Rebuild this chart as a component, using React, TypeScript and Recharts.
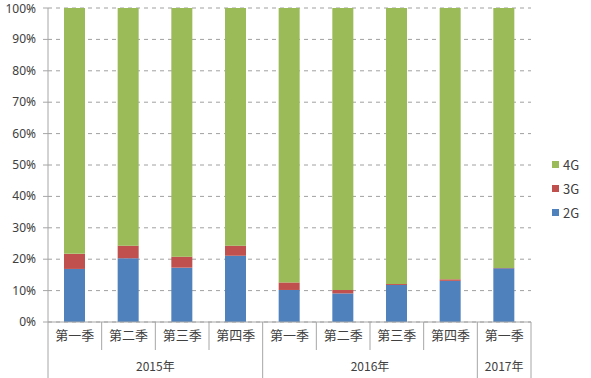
import { BarChart, Bar, XAxis, YAxis, CartesianGrid } from "recharts";

const quarters = ["第一季", "第二季", "第三季", "第四季", "第一季", "第二季", "第三季", "第四季", "第一季"];
const years = ["2015年", "2015年", "2015年", "2015年", "2016年", "2016年", "2016年", "2016年", "2017年"];
const share2G = [16.9, 20.3, 17.3, 21.1, 10.2, 9.1, 11.8, 13.1, 17.1];
const share3G = [4.8, 4.0, 3.5, 3.2, 2.4, 1.1, 0.3, 0.5, 0.1];
const yTicks = [0, 10, 20, 30, 40, 50, 60, 70, 80, 90, 100];

const data = quarters.map((q, i) => ({
  q,
  year: years[i],
  g2: share2G[i],
  g3: share3G[i],
  g4: +(100 - share2G[i] - share3G[i]).toFixed(1),
}));

const font = "'Noto Sans CJK SC', 'Noto Sans', sans-serif";
const axisColor = "#a6a6a6";
const textColor = "#404040";

const legendItems = [
  { name: "4G", color: "#9bbb59" },
  { name: "3G", color: "#c0504d" },
  { name: "2G", color: "#4f81bd" },
];

function QuarterTick(props: any) {
  const { x, y, index, width, visibleTicksCount } = props;
  const band = width / visibleTicksCount;
  const left = x - band / 2;
  const right = x + band / 2;
  const lastOfYear = index === years.length - 1 || years[index + 1] !== years[index];
  const firstOfYear = index === 0 || years[index - 1] !== years[index];
  let count = 0;
  for (let j = index; j < years.length && years[j] === years[index]; j++) count++;
  return (
    <g>
      {index === 0 && <line x1={left} x2={left} y1={y} y2={y + 56} stroke={axisColor} />}
      <line x1={right} x2={right} y1={y} y2={lastOfYear ? y + 56 : y + 28} stroke={axisColor} />
      <text x={x} y={y + 18} textAnchor="middle" fontSize={13} fill={textColor} fontFamily={font}>
        {quarters[index]}
      </text>
      {firstOfYear && (
        <text x={x + ((count - 1) * band) / 2} y={y + 49} textAnchor="middle" fontSize={12} fill={textColor} fontFamily={font}>
          {years[index]}
        </text>
      )}
    </g>
  );
}

// y labels drawn by hand so the top "100%" stays inside the picture
function PercentTick(props: any) {
  const { x, y, payload } = props;
  return (
    <text x={x} y={y + 4} textAnchor="end" fontSize={12} fill={textColor} fontFamily="'Noto Sans', sans-serif">
      {payload.value}%
    </text>
  );
}

function LegendBox() {
  return (
    <div style={{ position: "absolute", left: 552, top: 152, fontFamily: font, fontSize: 13, color: textColor }}>
      {legendItems.map((it) => (
        <div key={it.name} style={{ display: "flex", alignItems: "center", height: 24 }}>
          <span style={{ width: 7, height: 7, background: it.color, marginRight: 4 }} />
          {it.name}
        </div>
      ))}
    </div>
  );
}

export default function App() {
  return (
    <div style={{ position: "absolute", left: 0, top: 0, width: 591, height: 378, background: "#fff" }}>
      <BarChart width={591} height={378} data={data} margin={{ top: 8, right: 60, left: 0, bottom: 0 }}>
        <CartesianGrid vertical={false} strokeDasharray="4 4" stroke="#a0a0a0" />
        <XAxis
          dataKey="q"
          height={56}
          interval={0}
          tickLine={false}
          tickSize={0}
          tickMargin={0}
          axisLine={{ stroke: axisColor }}
          tick={<QuarterTick />}
        />
        <YAxis
          width={48}
          domain={[0, 100]}
          ticks={yTicks}
          tickSize={5}
          tickMargin={7}
          tickLine={{ stroke: axisColor }}
          axisLine={{ stroke: axisColor }}
          tick={<PercentTick />}
        />
        <Bar dataKey="g2" name="2G" stackId="a" fill="#4f81bd" barSize={21} isAnimationActive={false} />
        <Bar dataKey="g3" name="3G" stackId="a" fill="#c0504d" barSize={21} isAnimationActive={false} />
        <Bar dataKey="g4" name="4G" stackId="a" fill="#9bbb59" barSize={21} isAnimationActive={false} />
      </BarChart>
      <LegendBox />
    </div>
  );
}
